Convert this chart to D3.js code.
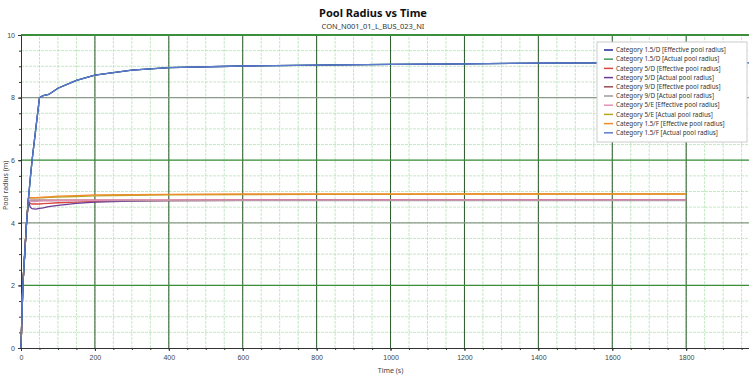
<!DOCTYPE html>
<html>
<head>
<meta charset="utf-8">
<script src="https://cdn.jsdelivr.net/npm/d3@7"></script>
<style>
  body { margin: 0; background: #fff; }
  svg { display: block; font-family: "Noto Sans", "Open Sans", sans-serif; }
</style>
</head>
<body>
<div id="chart"></div>
<script>
// Time points (s) shared by all series
var time = [0, 5, 10, 15, 20, 25, 30, 40, 50, 60, 75, 100, 150, 200, 300, 400, 600, 800, 1000, 1200, 1400, 1600, 1800];
// the 1.5 m/s runs go on past the right edge
var timeLong = [0, 5, 10, 15, 20, 25, 30, 40, 50, 60, 75, 100, 150, 200, 300, 400, 600, 800, 1000, 1200, 1400, 1600, 1800, 1970];

var seriesNames = [
  "Category 1.5/D [Effective pool radius]",
  "Category 1.5/D [Actual pool radius]",
  "Category 5/D [Effective pool radius]",
  "Category 5/D [Actual pool radius]",
  "Category 9/D [Effective pool radius]",
  "Category 9/D [Actual pool radius]",
  "Category 5/E [Effective pool radius]",
  "Category 5/E [Actual pool radius]",
  "Category 1.5/F [Effective pool radius]",
  "Category 1.5/F [Actual pool radius]"
];
var seriesColors = ["#1c2a9c", "#3f9d5c", "#d9453f", "#6b3a96", "#9c4a58", "#9a9a9a", "#e68fb4", "#b7a624", "#f08a2c", "#5d7ccc"];

// Pool radius (m)
var r15dEff = [0, 2.0, 3.0, 4.0, 4.75, 5.4, 6.0, 7.0, 8.0, 8.06, 8.1, 8.3, 8.55, 8.72, 8.88, 8.96, 9.01, 9.04, 9.06, 9.08, 9.1, 9.11, 9.12, 9.12];
var r15dAct = [0, 2.0, 3.0, 4.0, 4.75, 5.4, 6.0, 7.0, 8.0, 8.06, 8.1, 8.3, 8.55, 8.72, 8.88, 8.96, 9.01, 9.04, 9.06, 9.08, 9.1, 9.11, 9.12, 9.12];
var r5dEff = [0, 2.0, 3.0, 4.0, 4.7, 4.62, 4.6, 4.6, 4.6, 4.61, 4.62, 4.64, 4.66, 4.68, 4.7, 4.71, 4.72, 4.72, 4.72, 4.72, 4.72, 4.72, 4.72];
var r5dAct = [0, 2.0, 3.0, 4.0, 4.7, 4.5, 4.45, 4.44, 4.46, 4.48, 4.52, 4.56, 4.62, 4.66, 4.69, 4.71, 4.72, 4.72, 4.72, 4.72, 4.72, 4.72, 4.72];
var r9dEff = [0, 2.0, 3.0, 4.0, 4.7, 4.72, 4.72, 4.72, 4.72, 4.72, 4.72, 4.72, 4.72, 4.72, 4.72, 4.72, 4.72, 4.72, 4.72, 4.72, 4.72, 4.72, 4.72];
var r9dAct = [0, 2.0, 3.0, 4.0, 4.7, 4.71, 4.71, 4.71, 4.71, 4.71, 4.71, 4.71, 4.71, 4.71, 4.71, 4.71, 4.71, 4.71, 4.71, 4.71, 4.71, 4.71, 4.71];
var r5eEff = [0, 2.0, 3.0, 4.0, 4.7, 4.7, 4.68, 4.68, 4.69, 4.7, 4.7, 4.71, 4.72, 4.72, 4.73, 4.73, 4.73, 4.73, 4.73, 4.73, 4.73, 4.73, 4.73];
var r5eAct = [0, 2.0, 3.0, 4.0, 4.78, 4.8, 4.8, 4.8, 4.8, 4.8, 4.81, 4.82, 4.84, 4.86, 4.88, 4.89, 4.9, 4.91, 4.91, 4.92, 4.92, 4.92, 4.92];
var r15fEff = [0, 2.0, 3.0, 4.0, 4.78, 4.8, 4.8, 4.8, 4.81, 4.82, 4.83, 4.85, 4.87, 4.89, 4.9, 4.91, 4.92, 4.92, 4.92, 4.92, 4.92, 4.92, 4.92];
var r15fAct = [0, 2.0, 3.0, 4.0, 4.75, 5.4, 6.0, 7.0, 8.0, 8.06, 8.1, 8.3, 8.55, 8.72, 8.88, 8.96, 9.01, 9.04, 9.06, 9.08, 9.1, 9.11, 9.12, 9.12];

var seriesValues = [r15dEff, r15dAct, r5dEff, r5dAct, r9dEff, r9dAct, r5eEff, r5eAct, r15fEff, r15fAct];
var seriesTimes = [timeLong, timeLong, time, time, time, time, time, time, time, timeLong];
// order in which the lines are painted (the big 1.5 m/s curves end up on top)
var drawOrder = [2, 3, 4, 5, 6, 7, 8, 1, 0, 9];

var xTicks = [0, 200, 400, 600, 800, 1000, 1200, 1400, 1600, 1800];
var yTicks = [0, 2, 4, 6, 8, 10];

var width = 749, height = 376;
var margin = {top: 35, right: 0, bottom: 28, left: 21};

var svg = d3.select("#chart")
  .append("svg")
    .attr("width", width)
    .attr("height", height);

var x = d3.scaleLinear().domain([0, 1970]).range([margin.left, width - margin.right]);
var y = d3.scaleLinear().domain([0, 10]).range([height - margin.bottom, margin.top]);

// Minor grid (every 50 s / 0.5 m)
var grid = svg.append("g");
grid.selectAll(".vminor")
  .data(d3.range(50, 1970, 50))
  .enter().append("line")
    .attr("x1", function(d) { return x(d); })
    .attr("x2", function(d) { return x(d); })
    .attr("y1", y(0)).attr("y2", y(10))
    .attr("stroke", "#b6e2b6")
    .attr("stroke-width", 0.8)
    .attr("stroke-dasharray", "3,1");
grid.selectAll(".hminor")
  .data(d3.range(0.5, 10, 0.5))
  .enter().append("line")
    .attr("x1", x(0)).attr("x2", width)
    .attr("y1", function(d) { return y(d); })
    .attr("y2", function(d) { return y(d); })
    .attr("stroke", "#b6e2b6")
    .attr("stroke-width", 0.8)
    .attr("stroke-dasharray", "3,1");

// Major grid
grid.selectAll(".vmajor")
  .data(xTicks.slice(1))
  .enter().append("line")
    .attr("x1", function(d) { return x(d); })
    .attr("x2", function(d) { return x(d); })
    .attr("y1", y(0)).attr("y2", y(10))
    .attr("stroke", "#2a5a2a")
    .attr("stroke-width", 1);
grid.selectAll(".hmajor")
  .data(yTicks.slice(1))
  .enter().append("line")
    .attr("x1", x(0)).attr("x2", width)
    .attr("y1", function(d) { return y(d); })
    .attr("y2", function(d) { return y(d); })
    .attr("stroke", function(d) { return d % 4 === 0 ? "#8a9a8a" : "#3b8f3b"; })
    .attr("stroke-width", function(d) { return d === 10 ? 2 : 1.2; });

// Axes
var xAxis = svg.append("g")
  .attr("transform", "translate(0," + y(0) + ")")
  .call(d3.axisBottom(x).tickValues(xTicks).tickFormat(d3.format("d")).tickSize(3).tickSizeOuter(0));
svg.append("g")
  .attr("transform", "translate(0," + y(0) + ")")
  .call(d3.axisBottom(x).tickValues(d3.range(50, 1970, 50)).tickSize(2).tickFormat(""))
  .select(".domain").remove();
var yAxis = svg.append("g")
  .attr("transform", "translate(" + x(0) + ",0)")
  .call(d3.axisLeft(y).tickValues(yTicks).tickSize(3).tickSizeOuter(0));
svg.append("g")
  .attr("transform", "translate(" + x(0) + ",0)")
  .call(d3.axisLeft(y).tickValues(d3.range(0.5, 10, 0.5)).tickSize(2).tickFormat(""))
  .select(".domain").remove();

svg.selectAll(".domain").attr("stroke", "#333");
svg.selectAll(".tick line").attr("stroke", "#333");
xAxis.selectAll("text").attr("font-size", "7px").attr("fill", "#444").attr("dy", "0.9em");
yAxis.selectAll("text").attr("font-size", "7px").attr("fill", "#444");

// Series lines
var line = d3.line()
  .x(function(d) { return x(d[0]); })
  .y(function(d) { return y(d[1]); });

drawOrder.forEach(function(i) {
  var pts = seriesValues[i].map(function(v, j) { return [seriesTimes[i][j], v]; });
  svg.append("path")
    .datum(pts)
    .attr("fill", "none")
    .attr("stroke", seriesColors[i])
    .attr("stroke-width", 1.3)
    .attr("d", line);
});

// Axis titles
svg.append("text")
  .attr("x", x(1000))
  .attr("y", 373)
  .attr("text-anchor", "middle")
  .attr("font-size", "7px")
  .attr("fill", "#444")
  .text("Time (s)");
svg.append("text")
  .attr("transform", "translate(8," + y(5.2) + ") rotate(-90)")
  .attr("text-anchor", "middle")
  .attr("font-size", "7px")
  .attr("fill", "#444")
  .text("Pool radius (m)");

// Title
svg.append("text")
  .attr("x", 373)
  .attr("y", 17)
  .attr("text-anchor", "middle")
  .attr("font-size", "11px")
  .attr("font-weight", "bold")
  .attr("fill", "#111")
  .text("Pool Radius vs Time");
svg.append("text")
  .attr("x", 373)
  .attr("y", 29)
  .attr("text-anchor", "middle")
  .attr("font-size", "7.5px")
  .attr("fill", "#333")
  .text("CON_N001_01_L_BUS_023_NI");

// Legend
var legend = svg.append("g").attr("transform", "translate(597,42)");
legend.append("rect")
  .attr("width", 150)
  .attr("height", 100)
  .attr("fill", "#fff")
  .attr("stroke", "#ccc");
var item = legend.selectAll(".item")
  .data(seriesNames)
  .enter().append("g")
    .attr("transform", function(d, i) { return "translate(0," + (8 + i * 9.2) + ")"; });
item.append("line")
  .attr("x1", 7).attr("x2", 16)
  .attr("stroke", function(d, i) { return seriesColors[i]; })
  .attr("stroke-width", 1.5);
item.append("text")
  .attr("x", 19)
  .attr("dy", "0.35em")
  .attr("font-size", "6.3px")
  .attr("fill", "#333")
  .text(function(d) { return d; });
</script>
</body>
</html>
